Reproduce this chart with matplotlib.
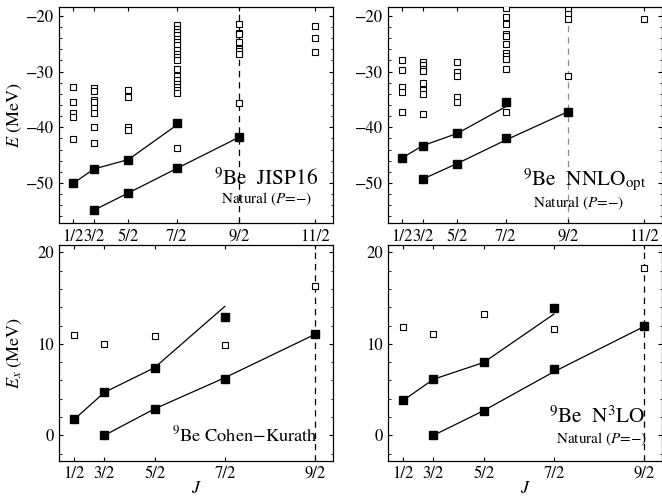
import numpy as np
import matplotlib
matplotlib.use("Agg")
import matplotlib.pyplot as plt
from matplotlib.ticker import MultipleLocator

plt.rcParams['font.family'] = ['STIXGeneral', 'DejaVu Serif']
plt.rcParams['mathtext.fontset'] = 'stix'
plt.rcParams['axes.unicode_minus'] = True

J_labels = ['1/2', '3/2', '5/2', '7/2', '9/2', '11/2']
J_vals = np.array([0.5, 1.5, 2.5, 3.5, 4.5, 5.5])

# ---- JISP16 (absolute energies, MeV) ----
jisp_band1_J = [0.5, 1.5, 2.5, 3.5]
jisp_band1_E = [-50.1, -47.5, -45.8, -39.3]
jisp_band1_fit = [-50.1, -47.5, -45.8, -39.6]
jisp_band2_J = [1.5, 2.5, 3.5, 4.5]
jisp_band2_E = [-54.9, -51.9, -47.4, -41.8]
jisp_band2_fit = [-54.9, -51.8, -47.4, -41.8]
jisp_other = {
    0.5: [-32.7, -35.5, -37.5, -38.1, -42.2],
    1.5: [-32.9, -33.5, -35.1, -35.5, -36.6, -37.5, -40.0, -42.8],
    2.5: [-33.3, -34.5, -39.9, -40.5],
    3.5: [-21.7, -22.3, -22.9, -23.5, -24.1, -24.7, -25.3, -26.1, -26.8,
          -27.4, -28.0, -29.6, -30.8, -31.5, -32.3, -32.8, -33.3, -33.8, -43.8],
    4.5: [-21.5, -23.05, -23.3, -24.7, -25.9, -26.3, -26.8, -35.7],
    5.5: [-21.85, -23.9, -26.5],
}

# ---- NNLOopt ----
nnlo_band1_J = [0.5, 1.5, 2.5, 3.5]
nnlo_band1_E = [-45.5, -43.3, -41.1, -35.5]
nnlo_band1_fit = [-45.5, -43.3, -41.1, -36.3]
nnlo_band2_J = [1.5, 2.5, 3.5, 4.5]
nnlo_band2_E = [-49.3, -46.6, -42.0, -37.2]
nnlo_band2_fit = [-49.3, -46.5, -42.3, -37.2]
nnlo_other = {
    0.5: [-28.0, -29.8, -32.7, -33.6, -37.2],
    1.5: [-28.3, -28.85, -29.45, -29.9, -32.1, -33.3, -34.1, -37.7],
    2.5: [-28.3, -30.05, -30.8, -34.65, -35.5],
    3.5: [-18.6, -20.2, -21.5, -23.2, -23.6, -25.1, -26.6, -27.2, -27.8,
          -29.6, -37.2],
    4.5: [-18.5, -18.85, -19.6, -20.5, -30.8],
    5.5: [-20.5],
}

# ---- Cohen-Kurath (excitation energies, MeV) ----
ck_band1_J = [0.5, 1.5, 2.5, 3.5]
ck_band1_E = [1.76, 4.7, 7.4, 12.9]
ck_band1_fit = [1.76, 4.7, 7.4, 14.1]
ck_band2_J = [1.5, 2.5, 3.5, 4.5]
ck_band2_E = [0.0, 2.9, 6.2, 11.05]
ck_band2_fit = [0.0, 2.9, 6.3, 11.05]
ck_other = {0.5: [11.0], 1.5: [10.0], 2.5: [10.9], 3.5: [9.85], 4.5: [16.3]}

# ---- N3LO ----
n3lo_band1_J = [0.5, 1.5, 2.5, 3.5]
n3lo_band1_E = [3.83, 6.13, 7.96, 13.9]
n3lo_band1_fit = [3.83, 6.13, 7.96, 13.25]
n3lo_band2_J = [1.5, 2.5, 3.5, 4.5]
n3lo_band2_E = [0.0, 2.66, 7.2, 11.9]
n3lo_band2_fit = [0.0, 2.7, 6.95, 11.9]
n3lo_other = {0.5: [11.87], 1.5: [11.1], 2.5: [13.3], 3.5: [11.6], 4.5: [18.25]}


def jj(J):
    J = np.asarray(J, dtype=float)
    return J * (J + 1)


def panel(ax, b1J, b1E, b1fit, b2J, b2E, b2fit, other, nlab, cutoff_color):
    ax.axvline(jj(4.5), color=cutoff_color, ls=(0, (5, 4)), lw=0.9, zorder=1)
    ax.plot(jj(b1J), b1fit, color='black', lw=0.9, zorder=2)
    ax.plot(jj(b2J), b2fit, color='black', lw=0.9, zorder=2)
    for J, Es in other.items():
        ax.plot(jj([J] * len(Es)), Es, ls='none', marker='s', ms=4.4,
                mfc='white', mec='black', mew=0.8, zorder=3)
    ax.plot(jj(b1J), b1E, ls='none', marker='s', ms=5.4, color='black', zorder=4)
    ax.plot(jj(b2J), b2E, ls='none', marker='s', ms=5.4, color='black', zorder=4)
    ax.set_xticks(jj(J_vals[:nlab]))
    ax.set_xticklabels(J_labels[:nlab])
    ax.tick_params(which='both', direction='in', top=True, right=True,
                   labelsize=12)
    ax.tick_params(which='major', length=3, pad=4)
    ax.tick_params(which='minor', length=1.8)
    ax.yaxis.set_minor_locator(MultipleLocator(2))
    for s in ax.spines.values():
        s.set_linewidth(0.9)


fig = plt.figure(figsize=(6.62, 4.96), dpi=100)
W = 274 / 662
axTL = fig.add_axes([59.3 / 662, 1 - 223 / 496, W, 216 / 496])
axTR = fig.add_axes([388.3 / 662, 1 - 223 / 496, W, 216 / 496])
axBL = fig.add_axes([59.3 / 662, 1 - 460.5 / 496, W, 215.5 / 496])
axBR = fig.add_axes([388.3 / 662, 1 - 460.5 / 496, W, 215.5 / 496])

panel(axTL, jisp_band1_J, jisp_band1_E, jisp_band1_fit,
      jisp_band2_J, jisp_band2_E, jisp_band2_fit, jisp_other, 6, 'black')
panel(axTR, nnlo_band1_J, nnlo_band1_E, nnlo_band1_fit,
      nnlo_band2_J, nnlo_band2_E, nnlo_band2_fit, nnlo_other, 6, '0.55')
panel(axBL, ck_band1_J, ck_band1_E, ck_band1_fit,
      ck_band2_J, ck_band2_E, ck_band2_fit, ck_other, 5, 'black')
panel(axBR, n3lo_band1_J, n3lo_band1_E, n3lo_band1_fit,
      n3lo_band2_J, n3lo_band2_E, n3lo_band2_fit, n3lo_other, 5, 'black')

for ax in (axTL, axTR):
    ax.set_xlim(-1.25, 38.4)
    ax.set_ylim(-57.2, -18.4)
    ax.set_yticks([-50, -40, -30, -20])
for ax in (axBL, axBR):
    ax.set_xlim(-0.75, 26.55)
    ax.set_ylim(-2.75, 20.8)
    ax.set_yticks([0, 10, 20])
    ax.set_xlabel('$J$', fontsize=13, labelpad=-1)

axTL.set_ylabel('$E$ (MeV)', fontsize=13)
axBL.set_ylabel('$E_x$ (MeV)', fontsize=13)
axTL.yaxis.set_label_coords(-0.13, 0.5)
axBL.yaxis.set_label_coords(-0.13, 0.5)

axTL.text(0.944, 0.205, '$^{9}$Be  JISP16', transform=axTL.transAxes,
          ha='right', va='center', fontsize=15.3)
axTL.text(0.924, 0.11, 'Natural ($P$=$-$)', transform=axTL.transAxes,
          ha='right', va='center', fontsize=11)
axTR.text(0.94, 0.20, '$^{9}$Be  NNLO$_{\\rm opt}$', transform=axTR.transAxes,
          ha='right', va='center', fontsize=15.3)
axTR.text(0.862, 0.09, 'Natural ($P$=$-$)', transform=axTR.transAxes,
          ha='right', va='center', fontsize=11)
axBL.text(0.944, 0.118, '$^{9}$Be Cohen$-$Kurath', transform=axBL.transAxes,
          ha='right', va='center', fontsize=13.2)
axBR.text(0.94, 0.2, '$^{9}$Be  N$^{3}$LO', transform=axBR.transAxes,
          ha='right', va='center', fontsize=15.3)
axBR.text(0.945, 0.10, 'Natural ($P$=$-$)', transform=axBR.transAxes,
          ha='right', va='center', fontsize=11)

fig.savefig('out.png', dpi=100)
